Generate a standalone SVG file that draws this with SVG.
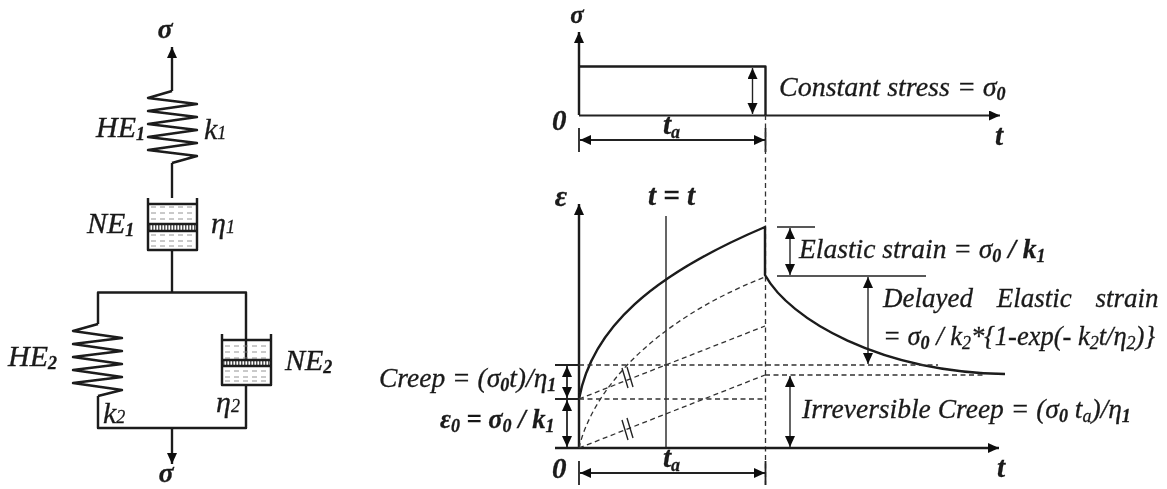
<svg xmlns="http://www.w3.org/2000/svg" width="1167" height="489" viewBox="0 0 1167 489">
<style>
text{font-family:"Liberation Serif","Times New Roman",serif;font-style:italic;fill:#1a1a1a;font-size:27px;stroke:#1a1a1a;stroke-width:.3}
.b{font-weight:bold}
.s{font-size:18px}
.n{font-size:30px}
.w{fill:none;stroke:#1a1a1a;stroke-width:2.4;stroke-linejoin:round}
.t{fill:none;stroke:#222;stroke-width:1.4}
.m{fill:none;stroke:#222;stroke-width:1.8}
.d{fill:none;stroke:#333;stroke-width:1.3;stroke-dasharray:5 3.500}
.l{fill:none;stroke:#888;stroke-width:.9;stroke-dasharray:5 4}
.h{fill:none;stroke:#555;stroke-width:5;stroke-dasharray:1.500 1.500}
</style>
<defs>
<marker id="a" markerUnits="userSpaceOnUse" markerWidth="14" markerHeight="12" refX="11" refY="5" orient="auto-start-reverse"><path d="M0 0L11 5L0 10Z" fill="#111"/></marker>
<filter id="soft" filterUnits="userSpaceOnUse" x="0" y="0" width="1167" height="489"><feGaussianBlur stdDeviation="0.45"/></filter>
</defs>
<rect width="1167" height="489" fill="#fff"/>
<g filter="url(#soft)">
<g id="connectors">
<path class="w" d="M172 91V47" marker-end="url(#a)"/>
<path class="w" d="M172 163V198"/>
<path class="w" d="M172 250V292"/>
<path class="w" d="M98 324V292.500H246V360"/>
<path class="w" d="M98 396V428H246V385"/>
<path class="w" d="M172 428V464" marker-end="url(#a)"/>
</g>
<g id="spring-he1">
<path class="w" d="M172 91L148 98L197 104L148 111L197 117L148 124L197 130L148 137L197 143L148 150L197 156L172 163"/>
<text class="n" x="96" y="137">HE<tspan class="b s" dy="3">1</tspan></text>
<text class="n" x="204" y="139">k<tspan class="s" dy="0">1</tspan></text>
</g>
<g id="dashpot-ne1">
<path class="l" d="M151 207H195M151 213H195M151 219H195M151 235H195M151 241H195M151 246H195"/>
<path class="h" d="M149 227.500H196"/>
<path class="w" d="M148 198V250H197V198"/>
<path class="w" d="M148 204H197M148 224H197M148 231H197"/>
<text class="n" x="87" y="233">NE<tspan class="b s" dy="3">1</tspan></text>
<text class="n" x="211" y="233">η<tspan class="s" dy="0">1</tspan></text>
</g>
<g id="spring-he2">
<path class="w" d="M98 324L73 331L122 338L73 344L122 351L73 357L122 364L73 370L122 377L73 383L122 390L98 396"/>
<text class="n" x="8" y="366">HE<tspan class="b s" dy="3">2</tspan></text>
<text class="n" x="103" y="423">k<tspan class="s" dy="0">2</tspan></text>
</g>
<g id="dashpot-ne2">
<path class="l" d="M225 346H269M225 352H269M225 358H269M225 371H269M225 377H269M225 381H269"/>
<path class="h" d="M223 363H270"/>
<path class="w" d="M222 334V385H271V334"/>
<path class="w" d="M222 340H271M222 360H271M222 366H271"/>
<text class="n" x="285" y="370">NE<tspan class="b s" dy="3">2</tspan></text>
<text class="n" x="216" y="412">η<tspan class="s" dy="0">2</tspan></text>
</g>
<text class="b" x="165" y="38" text-anchor="middle" style="font-size:28px">σ</text>
<text class="b" x="166" y="482" text-anchor="middle" style="font-size:28px">σ</text>
<g id="stress-chart">
<path class="w" d="M579 115V32" marker-end="url(#a)"/>
<path class="m" d="M579 115.500H1000" marker-end="url(#a)"/>
<path class="w" d="M579 66.500H765.500V115"/>
<path class="t" d="M752.500 68V114" marker-start="url(#a)" marker-end="url(#a)"/>
<path class="m" d="M579 128V152M765.500 128V152"/>
<path class="m" d="M580 140H765" marker-start="url(#a)" marker-end="url(#a)"/>
<text class="b" x="577" y="23" text-anchor="middle" style="font-size:25px">σ</text>
<text class="b" x="552" y="130" style="font-size:29px">0</text>
<text class="b" x="663" y="134" style="font-size:29px">t<tspan class="s" dy="4">a</tspan></text>
<text class="b" x="995" y="145" style="font-size:29px">t</text>
<text x="779" y="96" style="font-size:28px">Constant stress = σ<tspan class="b s" dy="4">0</tspan></text>
</g>
<g id="strain-chart">
<path class="d" d="M765.500 115V485"/>
<path class="w" d="M579 448V204" marker-end="url(#a)"/>
<path class="w" d="M555 448H999" marker-end="url(#a)"/>
<path class="t" d="M666 216V448"/>
<path class="w" d="M579 399C592 328 652 275 765 227V275C790 320 880 372 1005 374"/>
<path class="d" d="M579 448C592 392 650 322 765 277"/>
<path class="d" d="M579 399L765 326M579 448L765 375"/>
<path class="d" d="M579 365H938M579 399H765M765 375H983"/>
<path class="m" d="M555 365H579M555 399H579"/>
<path class="t" d="M622 368L628 388M627 367L633 387M622 420L628 440M627 418L633 438"/>
<path class="m" d="M567 366V398" marker-start="url(#a)" marker-end="url(#a)"/>
<path class="m" d="M567 400V447" marker-start="url(#a)" marker-end="url(#a)"/>
<path class="t" d="M777 227H815M777 276H926"/>
<path class="t" d="M790 228V275" marker-start="url(#a)" marker-end="url(#a)"/>
<path class="t" d="M868 277V364" marker-start="url(#a)" marker-end="url(#a)"/>
<path class="t" d="M790 376V447" marker-start="url(#a)" marker-end="url(#a)"/>
<path class="m" d="M579 461V485M765.500 461V485"/>
<path class="m" d="M580 473H765" marker-start="url(#a)" marker-end="url(#a)"/>
<text class="b" x="561" y="206" text-anchor="middle" style="font-size:30px">ε</text>
<text class="b" x="648" y="205" style="font-size:29px">t = t</text>
<text class="b" x="552" y="478" style="font-size:29px">0</text>
<text class="b" x="663" y="467" style="font-size:29px">t<tspan class="s" dy="4">a</tspan></text>
<text class="b" x="997" y="477" style="font-size:29px">t</text>
<text x="379" y="387" style="font-size:27.500px">Creep = (σ<tspan class="b s" dy="4">0</tspan><tspan dy="-4">t)/η</tspan><tspan class="b s" dy="4">1</tspan></text>
<text class="b" x="440" y="428" style="font-size:26.500px">ε<tspan class="s" dy="4">0</tspan><tspan dy="-4"> = σ</tspan><tspan class="s" dy="4">0</tspan><tspan dy="-4"> / k</tspan><tspan class="s" dy="4">1</tspan></text>
<text x="799" y="258" style="font-size:27.500px">Elastic strain = σ<tspan class="b s" dy="4">0</tspan><tspan class="b" dy="-4"> / k</tspan><tspan class="b s" dy="4">1</tspan></text>
<text x="883" y="307" word-spacing="17">Delayed Elastic strain</text>
<text x="883" y="345" style="font-size:26.500px">= σ<tspan class="b s" dy="4">0</tspan><tspan dy="-4"> / k</tspan><tspan class="s" dy="4">2</tspan><tspan dy="-4">*{1-exp(- k</tspan><tspan class="s" dy="4">2</tspan><tspan dy="-4">t/η</tspan><tspan class="s" dy="4">2</tspan><tspan dy="-4">)}</tspan></text>
<text x="802" y="418" style="font-size:27.500px">Irreversible Creep = (σ<tspan class="b s" dy="4">0</tspan><tspan dy="-4"> t</tspan><tspan class="s" dy="4">a</tspan><tspan dy="-4">)/η</tspan><tspan class="b s" dy="4">1</tspan></text>
</g>
</g>
</svg>
